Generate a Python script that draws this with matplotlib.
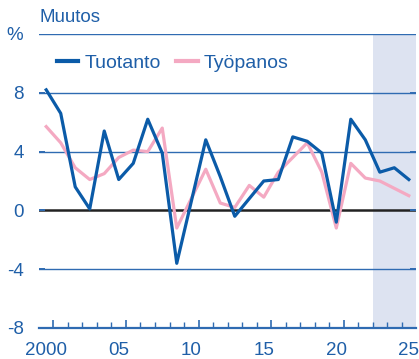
import matplotlib
matplotlib.use("Agg")
import matplotlib.pyplot as plt
from matplotlib.ticker import FixedLocator

plt.rcParams["font.family"] = ["Liberation Sans", "DejaVu Sans"]

BLUE = "#0b5ba8"
PINK = "#f4a9c2"
TEXT = "#1f5fa8"
GRID = "#2f6bb2"
SHADE = "#dde3f1"

years = list(range(2000, 2026))
tuotanto = [8.2, 6.6, 1.6, 0.1, 5.4, 2.1, 3.2, 6.2, 3.9, -3.6,
            0.6, 4.8, 2.3, -0.4, 0.8, 2.0, 2.1, 5.0, 4.7, 3.9,
            -0.8, 6.2, 4.8, 2.6, 2.9, 2.1]
tyopanos = [5.7, 4.6, 2.9, 2.1, 2.5, 3.6, 4.1, 4.0, 5.6, -1.2,
            0.8, 2.8, 0.5, 0.2, 1.7, 0.9, 2.6, 3.6, 4.6, 2.6,
            -1.2, 3.2, 2.2, 2.0, 1.5, 1.0]
forecast_start = 2023
yticks = [-8, -4, 0, 4, 8]
xlabels = ["2000", "05", "10", "15", "20", "25"]

fig = plt.figure(figsize=(4.19, 3.59), dpi=100)
ax = fig.add_axes([0.093, 0.0864, 0.9, 0.8189])
ax.set_xlim(years[0] - 0.5, years[-1] + 0.5)
ax.set_ylim(-8, 12)

# forecast period
ax.axvspan(forecast_start - 0.5, years[-1] + 0.5, color=SHADE, lw=0, zorder=0)

for y in yticks + [12]:
    if y == 0:
        ax.axhline(y, color="#222222", lw=1.8, zorder=1)
    elif y != -8:
        ax.axhline(y, color=GRID, lw=1.0, zorder=1)

ax.plot(years, tyopanos, color=PINK, lw=2.3, label="Työpanos", zorder=3)
ax.plot(years, tuotanto, color=BLUE, lw=2.3, label="Tuotanto", zorder=4)

for s in ["top", "left", "right"]:
    ax.spines[s].set_visible(False)
ax.spines["bottom"].set_color(GRID)
ax.spines["bottom"].set_linewidth(1.6)

ax.set_yticks(yticks)
ax.set_yticklabels([str(v) for v in yticks])
ax.tick_params(axis="y", direction="in", length=4, width=1.4, color=GRID,
               labelcolor=TEXT, labelsize=13.5, pad=11, right=True)

ax.set_xticks(years[::5])
ax.set_xticklabels(xlabels)
ax.tick_params(axis="x", length=0, labelcolor=TEXT, labelsize=13.5, pad=10)

# year boundary ticks
sec = ax.secondary_xaxis("bottom")
sec.xaxis.set_major_locator(FixedLocator([y + 0.5 for y in years[:-1:5]]))
sec.xaxis.set_minor_locator(FixedLocator([y + 0.5 for y in years[:-1]]))
sec.tick_params(which="major", direction="in", length=6, width=1.2, color=GRID,
                labelbottom=False)
sec.tick_params(which="minor", direction="in", length=4, width=1.0, color=GRID)
sec.spines["bottom"].set_visible(False)

handles, labels = ax.get_legend_handles_labels()
leg = ax.legend(handles[::-1], labels[::-1], loc="center left",
                bbox_to_anchor=(0.048, 0.9), ncol=2, frameon=False,
                fontsize=14, handlelength=1.1, handletextpad=0.3,
                columnspacing=0.8, borderpad=0, borderaxespad=0)
for t in leg.get_texts():
    t.set_color(TEXT)
for ln in leg.get_lines():
    ln.set_linewidth(3)

fig.text(39 / 419, 1 - 22 / 359, "Muutos", color=TEXT, fontsize=13.5,
         ha="left", va="baseline")
fig.text(23 / 419, 1 - 35 / 359, "%", color=TEXT, fontsize=13.5,
         ha="right", va="center")

fig.savefig("out.png", dpi=100)
